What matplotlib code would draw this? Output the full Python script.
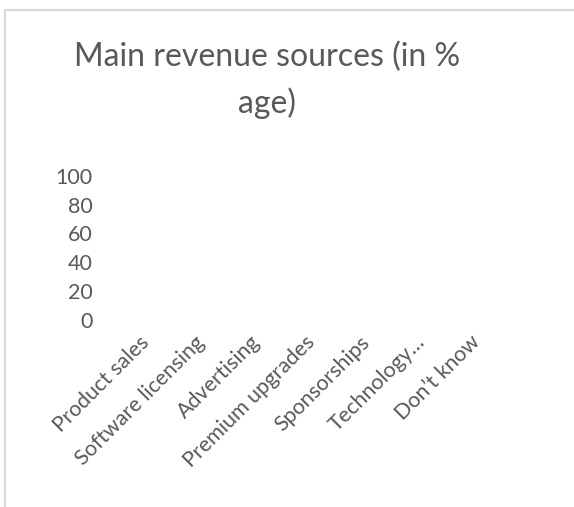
import matplotlib
matplotlib.use("Agg")
import matplotlib.pyplot as plt
from matplotlib.patches import Rectangle

categories = ["Product sales", "Software licensing", "Advertising",
              "Premium upgrades", "Sponsorships", "Technology\u2026", "Don\u2019t know"]
values = [0, 0, 0, 0, 0, 0, 0]
y_ticks = [0, 20, 40, 60, 80, 100]
title = "Main revenue sources (in %\nage)"

W, H, DPI = 574, 507, 100
TEXT = "#595959"
plt.rcParams["font.family"] = ["Lato", "DejaVu Sans"]

fig = plt.figure(figsize=(W / DPI, H / DPI), dpi=DPI)
fig.patch.set_facecolor("white")

# chart-area frame
fig.patches.append(Rectangle((5 / W, -0.5), 2.0, 1 - 9.5 / H + 0.5,
                             transform=fig.transFigure, fill=False,
                             edgecolor="#d9d9d9", linewidth=1.5))

left, right, top, bottom = 112, 497, 176, 319.5
ax = fig.add_axes([left / W, 1 - bottom / H, (right - left) / W, (bottom - top) / H])
x = range(len(categories))
ax.bar(x, values, width=0.6, color="#4472c4")
ax.set_xlim(-0.5, len(categories) - 0.5)
ax.set_ylim(0, 100)
ax.set_yticks(y_ticks)
ax.set_xticks(list(x))
ax.set_xticklabels(categories, rotation=45, ha="right", va="top",
                   rotation_mode="anchor", fontsize=15.5, color=TEXT)
ax.tick_params(axis="y", labelsize=15.5, colors=TEXT, length=0, pad=14)
ax.tick_params(axis="x", length=0, pad=9)
for s in ax.spines.values():
    s.set_visible(False)

fig.text(0.466, 1 - 80.5 / H, title, ha="center", va="center",
         fontsize=23, color=TEXT, linespacing=1.57)

fig.savefig("out.png", dpi=DPI, facecolor="white")
